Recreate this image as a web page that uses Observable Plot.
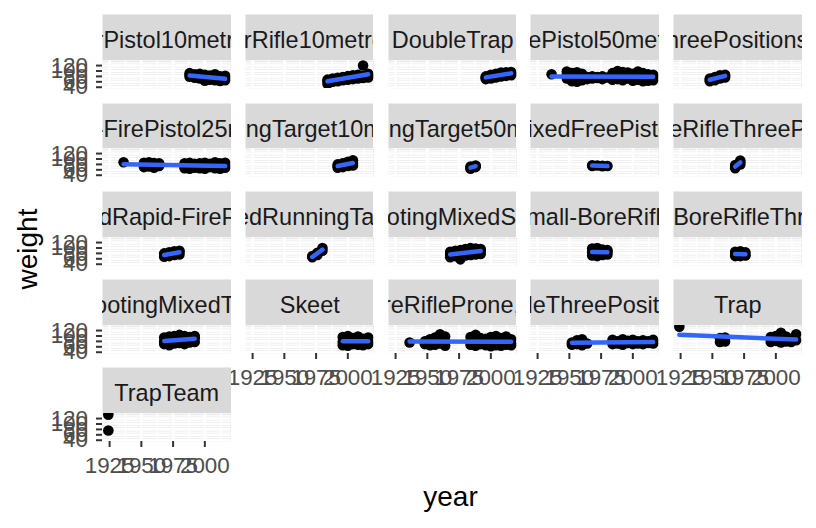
<!DOCTYPE html>
<html><head><meta charset="utf-8">
<script src="https://cdn.jsdelivr.net/npm/d3@7"></script>
<script src="https://cdn.jsdelivr.net/npm/@observablehq/plot@0.6"></script>
<style>
body{margin:0;background:#fff}
#chart{position:relative;width:816px;height:528px;overflow:hidden;background:#fff;font-family:"Liberation Sans",Arial,sans-serif}
#chart > svg{position:absolute}
</style>
</head><body><div id="chart"></div>
<script>
// ---- data ----
const events = ["AirPistol10metres","AirRifle10metres","DoubleTrap","FreePistol50metres","FreeRifleThreePositions300metres",
"Rapid-FirePistol25metres","RunningTarget10metres","RunningTarget50metres","ShootingMixedFreePistol50metres","ShootingMixedFreeRifleThreePositions300metres",
"ShootingMixedRapid-FirePistol25metres","ShootingMixedRunningTarget50metres","ShootingMixedSkeet","ShootingMixedSmall-BoreRifleProne50metres","ShootingMixedSmall-BoreRifleThreePositions50metres",
"ShootingMixedTrap","Skeet","Small-BoreRifleProne,50metres","Small-BoreRifleThreePositions,50metres","Trap",
"TrapTeam"];

const xDomain = [1919.4, 2020.6];
const yDomain = [35.3, 138.7];
const xTicks = [1925, 1950, 1975, 2000];
const xMinor = [1937.5, 1962.5, 1987.5, 2012.5];
const yTicks = [40, 60, 80, 100, 120];
const yMinor = [50, 70, 90, 110, 130];

const airPistol10 = [[1988,92],[1988,85],[1988,79],[1992,88],[1992,81],[1992,75],[1996,90],[1996,78],[1996,72],[2000,86],[2000,79],[2000,64],[2004,83],[2004,75],[2004,68],[2008,88],[2008,72],[2008,66],[2012,80],[2012,71],[2012,63],[2016,82],[2016,74],[2016,66]];
const airRifle10 = [[1984,52],[1984,62],[1984,68],[1988,60],[1988,66],[1988,72],[1992,62],[1992,70],[1992,75],[1996,66],[1996,72],[1996,78],[2000,68],[2000,75],[2000,81],[2004,70],[2004,77],[2004,84],[2008,72],[2008,80],[2008,86],[2012,74],[2012,82],[2012,120],[2016,76],[2016,84],[2016,90]];
const doubleTrap = [[1996,70],[1996,76],[1996,80],[2000,72],[2000,80],[2000,86],[2004,76],[2004,84],[2004,90],[2008,80],[2008,86],[2008,94],[2012,82],[2012,88],[2012,95],[2016,84],[2016,90],[2016,96]];
const freePistol50 = [[1936,88],[1948,72],[1948,85],[1948,98],[1952,62],[1952,80],[1952,92],[1956,60],[1956,78],[1956,95],[1960,66],[1960,76],[1960,90],[1964,70],[1964,78],[1968,72],[1968,80],[1972,74],[1972,78],[1976,70],[1976,80],[1980,76],[1984,68],[1984,80],[1984,92],[1988,70],[1988,82],[1988,100],[1992,66],[1992,78],[1992,96],[1996,72],[1996,84],[1996,94],[2000,64],[2000,76],[2000,90],[2004,68],[2004,80],[2004,98],[2008,62],[2008,82],[2008,92],[2012,64],[2012,76],[2012,88],[2016,66],[2016,78],[2016,86]];
const freeRifle3P300 = [[1948,62],[1948,68],[1948,72],[1952,66],[1952,72],[1952,78],[1956,72],[1956,78],[1956,84],[1960,76],[1960,82],[1960,86]];
const rapidFire25 = [[1936,88],[1952,70],[1952,80],[1952,86],[1956,72],[1956,82],[1956,88],[1960,68],[1960,78],[1960,85],[1964,74],[1964,84],[1984,66],[1984,76],[1984,84],[1988,64],[1988,74],[1988,86],[1992,68],[1992,78],[1992,82],[1996,66],[1996,72],[1996,84],[2000,64],[2000,76],[2000,86],[2004,70],[2004,74],[2004,82],[2008,66],[2008,78],[2008,88],[2012,64],[2012,72],[2012,84],[2016,68],[2016,76],[2016,86]];
const runningTarget10 = [[1992,68],[1992,74],[1992,80],[1996,70],[1996,78],[1996,84],[2000,74],[2000,82],[2000,90],[2004,76],[2004,84],[2004,95]];
const runningTarget50 = [[1984,64],[1984,68],[1984,72],[1988,70],[1988,74],[1988,76]];
const mixedFreePistol50 = [[1968,74],[1968,77],[1972,76],[1976,75],[1976,73],[1980,74]];
const mixedFreeRifle3P300 = [[1968,66],[1968,72],[1968,78],[1972,80],[1972,88],[1972,94]];
const mixedRapidFire25 = [[1968,68],[1968,74],[1968,80],[1972,70],[1972,78],[1972,84],[1976,74],[1976,82],[1976,88],[1980,76],[1980,86],[1980,90]];
const mixedRunningTarget50 = [[1972,66],[1972,70],[1976,74],[1976,82],[1980,90],[1980,100]];
const mixedSkeet = [[1968,66],[1968,76],[1968,86],[1972,70],[1972,80],[1972,90],[1976,58],[1976,78],[1976,92],[1980,72],[1980,84],[1980,96],[1984,74],[1984,86],[1984,100],[1988,76],[1988,88],[1988,98],[1992,78],[1992,90],[1992,96]];
const mixedSmallBoreProne50 = [[1968,72],[1968,84],[1968,98],[1972,70],[1972,86],[1972,100],[1976,74],[1976,82],[1976,94],[1980,76],[1980,86],[1980,92]];
const mixedSmallBore3P50 = [[1968,70],[1968,76],[1968,86],[1972,70],[1972,78],[1972,88],[1976,72],[1976,74],[1976,84]];
const mixedTrap = [[1968,70],[1968,80],[1968,94],[1972,66],[1972,82],[1972,98],[1976,72],[1976,84],[1976,100],[1980,74],[1980,86],[1980,104],[1984,70],[1984,88],[1984,100],[1988,76],[1988,90],[1988,96],[1992,78],[1992,92],[1992,100]];
const skeet = [[1996,66],[1996,78],[1996,96],[2000,64],[2000,80],[2000,100],[2004,70],[2004,76],[2004,92],[2008,68],[2008,82],[2008,98],[2012,66],[2012,78],[2012,90],[2016,70],[2016,80],[2016,94]];
const smallBoreProne50 = [[1936,76],[1948,70],[1948,80],[1952,66],[1952,78],[1952,88],[1956,68],[1956,76],[1956,94],[1960,72],[1960,80],[1960,106],[1964,64],[1964,78],[1964,98],[1984,68],[1984,80],[1984,96],[1988,64],[1988,76],[1988,104],[1992,70],[1992,80],[1992,92],[1996,66],[1996,74],[1996,90],[2000,62],[2000,72],[2000,96],[2004,66],[2004,78],[2004,100],[2008,64],[2008,74],[2008,92],[2012,68],[2012,76],[2012,98],[2016,66],[2016,72],[2016,88]];
const smallBore3P50 = [[1952,68],[1952,76],[1956,70],[1956,84],[1960,66],[1960,74],[1960,88],[1964,72],[1984,70],[1984,78],[1984,86],[1988,72],[1988,80],[1992,68],[1992,76],[1992,88],[1996,74],[1996,82],[2000,70],[2000,78],[2000,86],[2004,72],[2004,80],[2008,70],[2008,76],[2008,84],[2012,74],[2012,80],[2016,72],[2016,78],[2016,86]];
const trap = [[1924,134],[1956,78],[1956,92],[1960,80],[1960,94],[1996,78],[1996,96],[2000,82],[2000,100],[2004,76],[2004,112],[2008,80],[2008,98],[2012,78],[2012,90],[2016,84],[2016,106]];
const trapTeam = [[1924,134],[1924,76]];

const series = [airPistol10, airRifle10, doubleTrap, freePistol50, freeRifle3P300,
  rapidFire25, runningTarget10, runningTarget50, mixedFreePistol50, mixedFreeRifle3P300,
  mixedRapidFire25, mixedRunningTarget50, mixedSkeet, mixedSmallBoreProne50, mixedSmallBore3P50,
  mixedTrap, skeet, smallBoreProne50, smallBore3P50, trap, trapTeam];

// ---- layout ----
const FONT = "'Liberation Sans', Arial, sans-serif";
const TICKFONT = 22.4, STRIPFONT = 23.5;
const chart = document.getElementById("chart");
const W = 128.5, H = 28, SH = 45.8;

function place(svg, left, top) {
  svg.style.position = "absolute";
  svg.style.left = left + "px";
  svg.style.top = top + "px";
  chart.appendChild(svg);
}

events.forEach((name, i) => {
  const c = i % 5, r = Math.floor(i / 5);
  const L = 102 + c * 142.75;
  const T = 60 + r * 88.3;
  const showY = c === 0;
  const showX = r === 4 || (r === 3 && c > 0);
  const mL = showY ? 100 : 28, mR = 4, mT = 14, mB = showX ? 46 : 14;
  const rows = series[i].map(([year, weight]) => ({year, weight}));

  const marks = [
    Plot.frame({fill: "#ebebeb", stroke: "none"}),
    Plot.ruleY(yMinor, {stroke: "white", strokeWidth: 1.3}),
    Plot.ruleX(xMinor, {stroke: "white", strokeWidth: 1.3}),
    Plot.ruleY(yTicks, {stroke: "white", strokeWidth: 2.6}),
    Plot.ruleX(xTicks, {stroke: "white", strokeWidth: 2.6}),
    Plot.dot(rows, {x: "year", y: "weight", r: 5.3, fill: "black", stroke: "none", clip: true})
  ];
  if (new Set(rows.map(d => d.year)).size > 1) {
    marks.push(Plot.linearRegressionY(rows, {x: "year", y: "weight", stroke: "#3366FF", strokeWidth: 4.5, ci: 0, clip: true}));
  }
  if (showY) {
    marks.push(Plot.axisY({ticks: yTicks, tickSize: 6, tickFormat: () => "", stroke: "#333333", strokeWidth: 2, label: null}));
    marks.push(Plot.text(yTicks, {y: d => d, text: d => String(d), frameAnchor: "left", textAnchor: "end", dx: -14.5,
      fontSize: TICKFONT, fill: "#4d4d4d"}));
  }
  if (showX) {
    marks.push(Plot.axisX({ticks: xTicks, tickSize: 6, tickFormat: () => "", stroke: "#333333", strokeWidth: 2, label: null}));
    marks.push(Plot.text(xTicks, {x: d => d, text: d => String(d), frameAnchor: "bottom", lineAnchor: "top", dy: 16,
      fontSize: TICKFONT, fill: "#4d4d4d"}));
  }

  const panel = Plot.plot({
    width: mL + W + mR, height: mT + H + mB,
    marginLeft: mL, marginRight: mR, marginTop: mT, marginBottom: mB,
    x: {domain: xDomain, axis: null},
    y: {domain: yDomain, axis: null},
    style: {background: "transparent", fontFamily: FONT, fontSize: TICKFONT + "px", overflow: "hidden"},
    marks
  });
  place(panel, L - mL, T - mT);

  const strip = Plot.plot({
    width: W, height: SH, margin: 0,
    x: {domain: [0, 1], axis: null}, y: {domain: [0, 1], axis: null},
    style: {background: "transparent", fontFamily: FONT, fontSize: STRIPFONT + "px", overflow: "hidden"},
    marks: [
      Plot.frame({fill: "#d9d9d9", stroke: "none"}),
      Plot.text([name], {text: d => d, frameAnchor: "middle", fontSize: STRIPFONT, fill: "#1a1a1a", dy: 3.3})
    ]
  });
  place(strip, L, T - SH);
});

// axis titles
const over = d3.select(chart).append("svg")
  .attr("width", 816).attr("height", 528)
  .style("position", "absolute").style("left", "0px").style("top", "0px")
  .style("pointer-events", "none")
  .attr("font-family", FONT);
over.append("text").attr("x", 450.5).attr("y", 505.7).attr("text-anchor", "middle")
  .attr("font-size", 28).attr("fill", "black").text("year");
over.append("text").attr("transform", "translate(36.7,249) rotate(-90)").attr("text-anchor", "middle")
  .attr("font-size", 28).attr("fill", "black").text("weight");
</script>
</body></html>
